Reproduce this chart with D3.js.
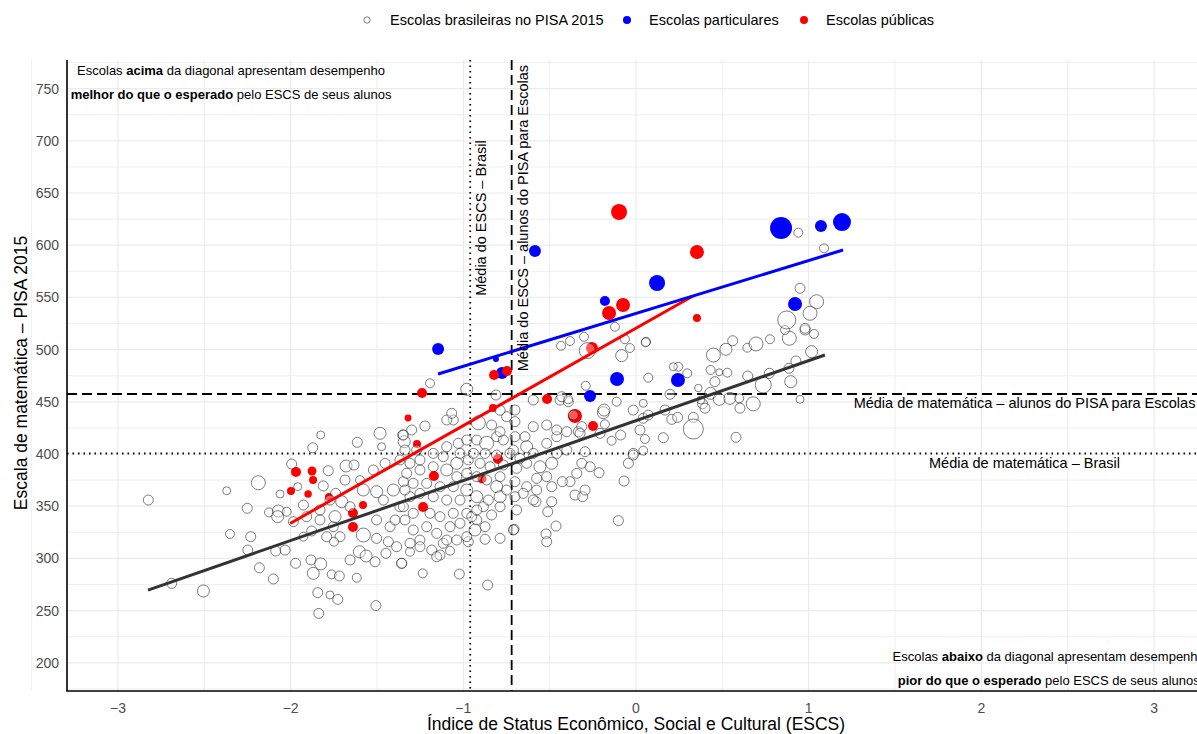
<!DOCTYPE html>
<html>
<head>
<meta charset="utf-8">
<script src="https://cdn.jsdelivr.net/npm/d3@7"></script>
<style>
  body { margin: 0; background: #fff; }
  svg { font-family: "Liberation Sans", Arial, Helvetica, sans-serif; }
</style>
</head>
<body>
<div id="chart"></div>
<script>
// [ESCS, nota de matemática, alunos] -- todas as escolas
var escolas = [
  [-2.824,355.9,25],[-2.689,276.1,25],[-2.505,268.8,36],[-2.370,364.8,16],[-2.187,372.5,49],[-2.251,348,25],
  [-2.351,323.4,20],[-2.231,320.8,25],[-2.248,308,25],[-2.181,291,25],[-2.100,280.3,25],[-2.125,344.1,20],
  [-2.071,345.4,36],[-2.075,340,36],[-2.086,307,25],[-2.032,308,25],[-2.061,361.7,16],[-1.994,390.4,25],
  [-1.971,295.3,25],[-1.984,335.2,25],[-1.959,368.7,16],[-1.882,298.5,25],[-1.826,418.2,16],[-1.872,406,25],
  [-1.782,384,25],[-1.811,369.4,25],[-1.869,285.7,36],[-1.826,294.7,36],[-1.843,267.2,25],[-1.772,265,16],
  [-1.727,260.8,25],[-1.837,247.3,25],[-1.762,284.7,20],[-1.718,283.2,25],[-1.617,281.5,20],[-1.506,254.8,25],
  [-1.614,411.2,25],[-1.482,419.8,36],[-1.473,407,16],[-1.351,418.2,25],[-1.342,411.8,36],[-1.679,388.5,36],
  [-1.633,389.5,25],[-1.685,375,25],[-1.739,362.3,25],[-1.772,355.9,25],[-1.704,354.3,36],[-1.656,349.5,25],
  [-1.830,336.8,25],[-1.753,330.4,25],[-1.714,320.8,25],[-1.749,316,20],[-1.579,322.4,49],[-1.602,306.4,36],
  [-1.563,302.3,36],[-1.656,298.5,25],[-1.511,296.8,25],[-1.448,304.9,25],[-1.357,295.3,25],[-1.502,319.2,25],
  [-1.434,316,25],[-1.386,311.2,25],[-1.502,336.8,25],[-1.424,330.4,25],[-1.579,365.5,36],[-1.502,363.9,36],
  [-1.463,355.9,25],[-1.405,365.5,36],[-1.367,349.5,25],[-1.598,375,20],[-1.521,384.7,25],[-1.453,391,25],
  [-1.367,394.3,25],[-1.830,346.4,25],[-1.926,351.1,25],[-2.023,344.7,20],[-1.907,340,25],[-1.926,320.8,20],
  [-1.878,326.3,25],[-1.791,320.8,25],[-1.743,340,36],[-1.347,373.5,25],[-1.395,336.8,25],
  [-1.235,285.7,20],[-1.023,285,25],[-0.859,274.5,25],[-1.357,295.3,25],[-1.135,303.2,25],[-1.309,306.4,20],
  [-1.077,307.4,20],[-0.874,318.3,25],[-0.787,319.2,25],[-0.971,316,25],[-0.706,327.9,25],[-0.521,323.4,25],
  [-0.517,316,25],[-0.463,331,25],[-0.511,344.7,25],[-0.488,354.3,25],[-0.579,354.3,25],[-0.691,346.4,25],
  [-0.102,336.2,25],[-0.069,374.1,25],[-0.214,382.1,25],[-0.044,391.1,25],[-0.016,400.6,25],[-0.295,402.2,25],
  [-0.189,439.6,36],[-0.112,450.1,20],[-0.180,428.4,20],[-0.089,418.2,25],[-0.141,412.7,20],[-0.353,360.7,25],
  [-0.309,359.1,25],[-0.295,365.5,25],[-0.382,373.5,25],[-0.343,381.5,25],[-0.314,391.1,25],[-0.266,387.8,25],
  [-0.427,373.5,25],[-0.488,368.7,25],[-0.517,378.3,25],[-0.556,387.8,36],[-0.488,391.1,36],[-0.459,400.6,25],
  [-0.401,403.8,25],[-0.517,410.2,25],[-0.459,416.6,25],[-0.595,426.2,25],[-0.517,427.8,25],[-0.459,423,25],
  [-0.401,421.4,25],[-0.334,421.4,25],[-0.314,426.2,25],[-0.595,451.7,25],[-0.440,451.7,25],[-0.392,450.1,25],
  [-0.643,416.6,25],[-0.633,407,36],[-0.595,400.6,25],[-0.633,391.1,25],[-0.575,376.7,25],[-0.633,368.7,25],
  [-0.653,362.3,25],[-0.701,359.1,25],[-0.701,373.5,25],[-0.691,386.3,25],[-0.672,395.8,25],[-0.710,403.8,25],
  [-0.768,389.5,25],[-0.787,378.3,25],[-0.807,368.7,36],[-0.787,359.1,36],[-0.787,349.5,25],[-0.836,341.6,25],
  [-0.884,349.5,25],[-0.922,359.1,36],[-0.922,336.8,25],[-0.932,327.2,36],[-0.874,330.4,25],[-0.980,320.8,25],
  [-1.038,317.6,25],[-1.116,314.5,25],[-1.183,308,25],[-1.251,317.6,25],[-1.309,314.5,25],[-1.290,327.2,25],
  [-1.212,330.4,25],[-1.154,324,25],[-1.077,330.4,25],[-1.019,333.6,25],[-0.980,343.2,25],[-1.058,343.2,25],
  [-1.135,340,25],[-1.193,343.2,25],[-1.290,343.2,25],[-1.338,336.8,25],[-1.347,349.5,25],[-1.309,359.1,25],
  [-1.251,362.3,25],[-1.174,359.1,25],[-1.096,355.9,25],[-1.019,355.9,25],[-0.980,365.5,36],[-1.058,368.7,25],
  [-1.135,368.7,25],[-1.212,371.9,25],[-1.290,371.9,25],[-1.338,365.5,25],[-1.328,381.5,25],[-1.251,384.7,25],
  [-1.174,387.8,25],[-1.096,384.7,36],[-1.038,378.3,25],[-0.980,381.5,25],[-0.922,378.3,25],[-0.865,375.1,25],
  [-0.845,387.8,25],[-0.903,391.1,25],[-0.971,394.3,25],[-1.038,391.1,36],[-1.116,397.4,25],[-1.174,400.6,25],
  [-1.251,394.3,25],[-1.309,391.1,25],[-1.338,403.8,25],[-1.270,403.8,25],[-1.096,407,25],[-1.029,410.2,25],
  [-0.980,413.4,25],[-0.922,413.4,25],[-0.865,410.2,49],[-0.807,416.6,25],[-0.768,413.4,25],[-0.836,427.8,25],
  [-0.787,421.4,25],[-0.913,429.9,49],[-1.058,432.6,25],[-1.096,432.6,25],[-1.067,439,25],[-1.222,426.8,25],
  [-1.299,423,25],[-1.347,418.2,25],[-0.749,435.7,25],[-0.701,431,25],[-0.787,441.9,25],[-0.701,416.6,25],
  [-0.730,400.6,25],[-0.807,399,25],[-0.874,400.6,25],[-0.942,400.6,25],[-1.019,400.6,25],[-0.710,327.2,25],
  [-0.951,340,25],[-1.096,317.6,25],[-1.154,301.6,25],[-1.251,311.2,25],[-0.922,346.4,25],[-0.855,355.9,25],
  [-0.749,365.5,25],[-0.575,365.5,25],[-0.595,355.9,25],
  [0.058,507.6,20],[0.071,473.1,20],[0.245,483.6,20],[0.297,477.3,20],[0.197,457.2,25],[0.042,448.6,16],
  [0.168,442.1,25],[0.042,434.2,25],[0.207,433.2,25],[0.241,435.1,25],[0.332,435.1,25],[0.332,423.9,100],
  [0.023,423,25],[0.052,414.4,20],[0.158,415.6,25],[0.042,403.2,20],[-0.016,399,25],[0.579,416,25],
  [0.361,463.2,14],[0.386,448.1,25],[0.400,443.9,25],[0.375,451.7,16],[0.432,458.1,36],[0.482,452.4,36],
  [0.457,469.3,25],[0.432,480.5,20],[0.482,478.3,12],[0.529,477.9,20],[0.448,494.8,49],[0.521,500.3,36],
  [0.560,508.5,25],[0.645,501.8,20],[0.695,505.4,49],[0.776,509.9,20],[0.544,453.3,36],[0.598,453.3,20],
  [0.602,443.9,25],[0.679,448.1,49],[0.737,466.1,64],[0.772,477.3,25],[0.886,482.1,25],[0.926,489.1,25],
  [0.896,469.3,36],[0.950,452.4,16],[1.017,498,36],[0.888,510.9,49],[0.979,518.8,25],[1.031,515,20],
  [0.863,518.8,20],[-0.035,501.5,20],
  [-1.193,467.7,20],[-0.980,462,36],[-0.811,456.5,25],[-0.701,442.1,25],[-0.434,503.7,20],[-0.382,508.2,20],
  [-0.301,512.3,20],[-0.282,499,64],[-0.430,454.9,25],[-0.392,452.4,20],[-0.291,465.4,20],[-0.185,442.1,36],
  [-0.122,521.9,20],[-0.064,509.9,20],[-0.083,494.2,36],[0.056,506.9,20],[0.216,483.6,16],[0.873,528.4,81],
  [0.950,558.7,25],[1.046,545.9,49],[1.008,534.8,49],[0.979,520.4,25],[0.940,612,20],[1.089,597,20],
  [0.647,474.7,25],[-0.016,442.1,25],[0.071,437.3,25],[-0.363,437.3,25],[-0.324,419.8,25],[-0.208,419.8,25]
];

var particulares = [
  [-1.146,500.6,36],[-0.811,491.0,9],[-0.776,477.6,36],[-0.585,594.4,36],[-0.180,546.6,25],[0.122,563.8,64],
  [-0.110,471.8,49],[-0.266,455.6,36],[0.243,470.9,49],[0.840,616.5,121],[1.071,618.4,36],[1.193,622.2,81],
  [0.921,543.7,49]
];

var publicas = [
  [-0.098,631.8,64],[0.353,593.5,49],[-0.075,542.7,49],[-0.156,535.1,49],[0.353,530.3,16],[-0.255,501.5,36],
  [-0.822,475.7,25],[-0.747,479.5,25],[-1.239,458.4,25],[-0.515,452.7,25],[-0.353,436.4,49],[-0.249,426.8,25],
  [-0.828,444.1,16],[-1.320,434.5,12],[-1.969,382.8,25],[-1.876,383.7,20],[-1.870,375.1,16],[-1.998,364.6,16],
  [-1.899,361.7,14],[-1.778,358.8,16],[-1.639,343.5,25],[-1.639,330.1,25],[-1.581,351.2,16],[-1.268,409.6,16],
  [-1.170,378.9,25],[-0.892,376.1,20],[-1.233,349.2,25],[-0.799,395.2,25]
];

// retas de regressão (extremos)
var retaTodas = [[-2.826,269.7],[1.094,494.8]];
var retaParticulares = [[-1.146,476.6],[1.199,595.4]];
var retaPublicas = [[-2.003,333.5],[0.33,551.3]];

var mediaEscsBrasil = -0.96, mediaEscsPisa = -0.72;
var mediaMatPisa = 457.5, mediaMatBrasil = 400.5;

var xTicks = [-3, -2, -1, 0, 1, 2, 3];
var yTicks = [200, 250, 300, 350, 400, 450, 500, 550, 600, 650, 700, 750];

width = 1197
height = 734
var margin = { top: 60, right: -18, bottom: 43, left: 67 };
var x0 = margin.left, x1 = width - margin.right, y0 = margin.top, y1 = height - margin.bottom;

var svg = d3.select("#chart").append("svg")
    .attr("width", width).attr("height", height);

var x = d3.scaleLinear().domain([-3.295, 3.353]).range([x0, x1]);
var y = d3.scaleLinear().domain([173, 777.4]).range([y1, y0]);
var r = d3.scaleSqrt().domain([0, 100]).range([0, 10]);

svg.append("clipPath").attr("id", "clip")
    .append("rect").attr("x", x0).attr("y", y0).attr("width", x1 - x0).attr("height", y1 - y0);

// grade
var grid = svg.append("g");
var xMinor = d3.range(-3.5, 3.6, 1), yMinor = d3.range(175, 776, 50);
grid.selectAll(".xm").data(xMinor).enter().append("line")
    .attr("x1", d => x(d)).attr("x2", d => x(d)).attr("y1", y0).attr("y2", y1)
    .attr("stroke", "#ebebeb").attr("stroke-width", 0.8);
grid.selectAll(".ym").data(yMinor).enter().append("line")
    .attr("x1", x0).attr("x2", x1).attr("y1", d => y(d)).attr("y2", d => y(d))
    .attr("stroke", "#ebebeb").attr("stroke-width", 0.8);
grid.selectAll(".xM").data(xTicks).enter().append("line")
    .attr("x1", d => x(d)).attr("x2", d => x(d)).attr("y1", y0).attr("y2", y1)
    .attr("stroke", "#ebebeb").attr("stroke-width", 1.2);
grid.selectAll(".yM").data(yTicks).enter().append("line")
    .attr("x1", x0).attr("x2", x1).attr("y1", d => y(d)).attr("y2", d => y(d))
    .attr("stroke", "#ebebeb").attr("stroke-width", 1.2);

var panel = svg.append("g").attr("clip-path", "url(#clip)");

// linhas de referência
panel.append("line").attr("x1", x(mediaEscsBrasil)).attr("x2", x(mediaEscsBrasil)).attr("y1", y0).attr("y2", y1)
    .attr("stroke", "#000").attr("stroke-width", 1.8).attr("stroke-dasharray", "1.5,4");
panel.append("line").attr("x1", x(mediaEscsPisa)).attr("x2", x(mediaEscsPisa)).attr("y1", y0).attr("y2", y1)
    .attr("stroke", "#000").attr("stroke-width", 1.8).attr("stroke-dasharray", "10,5");
panel.append("line").attr("x1", x0).attr("x2", x1).attr("y1", y(mediaMatPisa)).attr("y2", y(mediaMatPisa))
    .attr("stroke", "#000").attr("stroke-width", 1.8).attr("stroke-dasharray", "10,5");
panel.append("line").attr("x1", x0).attr("x2", x1).attr("y1", y(mediaMatBrasil)).attr("y2", y(mediaMatBrasil))
    .attr("stroke", "#000").attr("stroke-width", 1.8).attr("stroke-dasharray", "1.5,4");

// pontos coloridos
panel.selectAll(".part").data(particulares).enter().append("circle")
    .attr("cx", d => x(d[0])).attr("cy", d => y(d[1])).attr("r", d => r(d[2]))
    .attr("fill", "#0000ff");
panel.selectAll(".pub").data(publicas).enter().append("circle")
    .attr("cx", d => x(d[0])).attr("cy", d => y(d[1])).attr("r", d => r(d[2]))
    .attr("fill", "#ff0000");

// todas as escolas
panel.selectAll(".esc").data(escolas).enter().append("circle")
    .attr("cx", d => x(d[0])).attr("cy", d => y(d[1])).attr("r", d => r(d[2]))
    .attr("fill", "#fff").attr("fill-opacity", 0.35)
    .attr("stroke", "#000").attr("stroke-opacity", 0.5).attr("stroke-width", 1);

// retas
var line = d3.line().x(d => x(d[0])).y(d => y(d[1]));
panel.append("path").datum(retaTodas).attr("d", line).attr("stroke", "#333").attr("stroke-width", 3).attr("fill", "none");
panel.append("path").datum(retaPublicas).attr("d", line).attr("stroke", "#ff0000").attr("stroke-width", 3).attr("fill", "none");
panel.append("path").datum(retaParticulares).attr("d", line).attr("stroke", "#0000ff").attr("stroke-width", 3).attr("fill", "none");

// textos das linhas
function vtext(xv, txt) {
    svg.append("text").attr("transform", "translate(" + (x(xv) + 16) + "," + y(626) + ") rotate(-90)")
        .attr("text-anchor", "middle").attr("font-size", 14.5).attr("fill", "#000").text(txt);
}
vtext(mediaEscsBrasil, "Média do ESCS – Brasil");
vtext(mediaEscsPisa, "Média do ESCS – alunos do PISA para Escolas");
svg.append("text").attr("x", x(2.25)).attr("y", y(mediaMatPisa) + 14).attr("text-anchor", "middle")
    .attr("font-size", 14.5).text("Média de matemática – alunos do PISA para Escolas");
svg.append("text").attr("x", x(2.25)).attr("y", y(mediaMatBrasil) + 15).attr("text-anchor", "middle")
    .attr("font-size", 14.5).text("Média de matemática – Brasil");

// anotações
function note(xv, yp, parts) {
    var t = svg.append("text").attr("x", x(xv)).attr("y", yp).attr("text-anchor", "middle").attr("font-size", 13);
    parts.forEach(p => t.append("tspan").attr("font-weight", p[1] ? "bold" : "normal").text(p[0]));
}
note(-2.345, 75, [["Escolas ", 0], ["acima", 1], [" da diagonal apresentam desempenho", 0]]);
note(-2.345, 99, [["melhor do que o esperado", 1], [" pelo ESCS de seus alunos", 0]]);
note(2.39, 661, [["Escolas ", 0], ["abaixo", 1], [" da diagonal apresentam desempenho", 0]]);
note(2.39, 685, [["pior do que o esperado", 1], [" pelo ESCS de seus alunos", 0]]);

// eixos
svg.append("line").attr("x1", x0).attr("x2", x0).attr("y1", y0).attr("y2", y1).attr("stroke", "#000").attr("stroke-width", 1.6);
svg.append("line").attr("x1", x0 - 0.8).attr("x2", x1).attr("y1", y1).attr("y2", y1).attr("stroke", "#000").attr("stroke-width", 1.6);

svg.selectAll(".xt").data(xTicks).enter().append("text")
    .attr("x", d => x(d)).attr("y", y1 + 22).attr("text-anchor", "middle")
    .attr("font-size", 14).attr("fill", "#4d4d4d").text(d => d < 0 ? "\u2212" + Math.abs(d) : d);
svg.selectAll(".yt").data(yTicks).enter().append("text")
    .attr("x", x0 - 8).attr("y", d => y(d) + 5).attr("text-anchor", "end")
    .attr("font-size", 14).attr("fill", "#4d4d4d").text(d => d);

svg.append("text").attr("x", 636).attr("y", 730).attr("text-anchor", "middle")
    .attr("font-size", 17.5).text("Índice de Status Econômico, Social e Cultural (ESCS)");
svg.append("text").attr("transform", "translate(27,373) rotate(-90)")
    .attr("text-anchor", "middle").attr("font-size", 17.5).text("Escala de matemática – PISA 2015");

// legenda
var leg = svg.append("g");
leg.append("circle").attr("cx", 367).attr("cy", 20).attr("r", 3.2).attr("fill", "none").attr("stroke", "#000").attr("stroke-opacity", 0.5);
leg.append("text").attr("x", 390).attr("y", 25).attr("font-size", 14.5).text("Escolas brasileiras no PISA 2015");
leg.append("circle").attr("cx", 627).attr("cy", 20).attr("r", 4).attr("fill", "#0000ff");
leg.append("text").attr("x", 649).attr("y", 25).attr("font-size", 14.5).text("Escolas particulares");
leg.append("circle").attr("cx", 804).attr("cy", 20).attr("r", 4).attr("fill", "#ff0000");
leg.append("text").attr("x", 826).attr("y", 25).attr("font-size", 14.5).text("Escolas públicas");
</script>
</body>
</html>
